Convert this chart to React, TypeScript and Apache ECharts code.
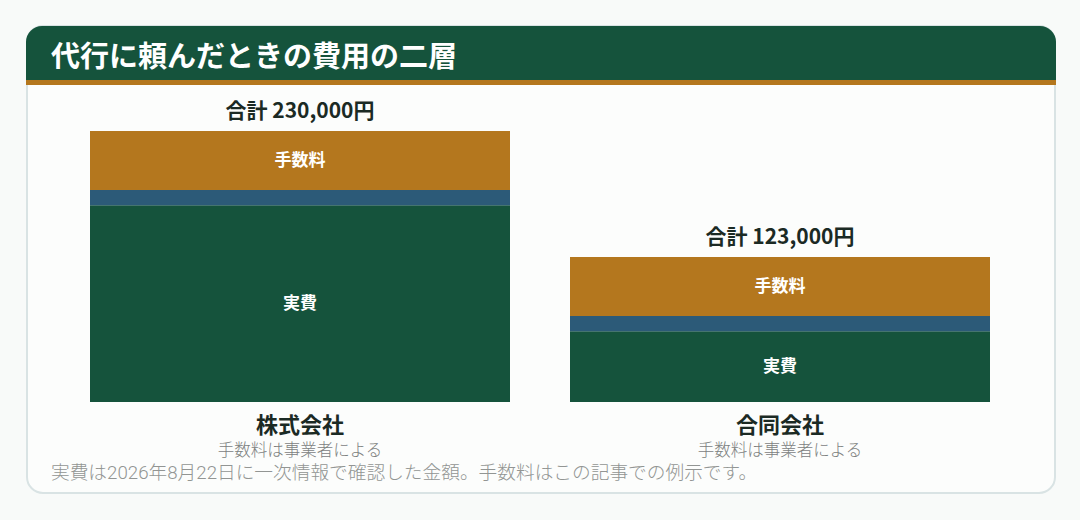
import React, { useEffect, useRef } from "react";
import * as echarts from "echarts";

const TITLE = "代行に頼んだときの費用の二層";
const FOOTNOTE = "実費は2026年8月22日に一次情報で確認した金額。手数料はこの記事での例示です。";
const categories = ["株式会社", "合同会社"];
const subLabels = ["手数料は事業者による", "手数料は事業者による"];
const actualCost = [167000, 60000];
const middleLayer = [13000, 13000];
const serviceFee = [50000, 50000];
const totals = categories.map((_, i) => actualCost[i] + middleLayer[i] + serviceFee[i]);

const FONT = "'Noto Sans CJK JP', 'Noto Sans', sans-serif";
const GREEN = "#15533c";
const BLUE = "#2c5a78";
const ORANGE = "#b4771e";
const DARK = "#1b2a24";

export default function App() {
  const ref = useRef<HTMLDivElement>(null);
  useEffect(() => {
    document.body.style.margin = "0";
    const chart = echarts.init(ref.current!, null, { renderer: "svg" });
    const fmt = (v: number) => v.toLocaleString("en-US");
    chart.setOption({
      animation: false,
      backgroundColor: "#f8faf9",
      textStyle: { fontFamily: FONT },
      graphic: [
        {
          type: "rect",
          z: 0,
          shape: { x: 27, y: 26, width: 1028, height: 467, r: 16 },
          style: { fill: "#fcfdfc", stroke: "#d9e3e4", lineWidth: 2 },
        },
        {
          type: "rect",
          z: 1,
          shape: { x: 26, y: 26, width: 1030, height: 54, r: [16, 16, 0, 0] },
          style: { fill: GREEN },
        },
        {
          type: "rect",
          z: 1,
          shape: { x: 26, y: 80, width: 1030, height: 5 },
          style: { fill: ORANGE },
        },
        {
          type: "text",
          z: 2,
          x: 51,
          y: 54,
          style: {
            text: TITLE,
            fill: "#ffffff",
            font: `bold 29px ${FONT}`,
            verticalAlign: "middle",
          },
        },
        {
          type: "text",
          z: 2,
          x: 51,
          y: 473,
          style: {
            text: FOOTNOTE,
            fill: "#929593",
            font: `300 18.7px Roboto, ${FONT}`,
            verticalAlign: "middle",
          },
        },
      ],
      grid: { left: 60, right: 60, top: 131, bottom: 118 },
      xAxis: {
        type: "category",
        data: categories,
        axisLine: { show: false },
        axisTick: { show: false },
        axisLabel: {
          margin: 8,
          interval: 0,
          formatter: (v: string, i: number) => `{a|${v}}\n{b|${subLabels[i]}}`,
          rich: {
            a: { fontSize: 22, fontWeight: "bold", color: DARK, lineHeight: 26, fontFamily: FONT },
            b: { fontSize: 16.5, fontWeight: 300, color: "#7d817f", lineHeight: 25, fontFamily: FONT },
          },
        },
      },
      yAxis: {
        type: "value",
        min: 0,
        max: 230000,
        show: false,
        splitLine: { show: false },
      },
      series: [
        {
          name: "実費",
          type: "bar",
          stack: "cost",
          barWidth: 420,
          data: actualCost,
          itemStyle: { color: GREEN },
          label: {
            show: true,
            position: "inside",
            offset: [0, -2],
            formatter: "実費",
            color: "#ffffff",
            fontSize: 17,
            fontWeight: "bold",
            fontFamily: FONT,
          },
        },
        {
          name: "その他",
          type: "bar",
          stack: "cost",
          barWidth: 420,
          data: middleLayer,
          itemStyle: { color: BLUE },
        },
        {
          name: "手数料",
          type: "bar",
          stack: "cost",
          barWidth: 420,
          data: serviceFee,
          itemStyle: { color: ORANGE },
          label: {
            show: true,
            position: "inside",
            offset: [0, -2],
            formatter: "手数料",
            color: "#ffffff",
            fontSize: 17,
            fontWeight: "bold",
            fontFamily: FONT,
          },
        },
        {
          name: "合計",
          type: "bar",
          stack: "cost",
          barWidth: 420,
          data: totals.map(() => 0),
          itemStyle: { color: "transparent" },
          label: {
            show: true,
            position: "top",
            distance: 12,
            formatter: (p: any) => `合計 ${fmt(totals[p.dataIndex])}円`,
            color: DARK,
            fontSize: 21,
            fontWeight: "bold",
            fontFamily: FONT,
          },
        },
      ],
    });
    return () => chart.dispose();
  }, []);
  return (
    <div
      ref={ref}
      style={{ position: "fixed", left: 0, top: 0, width: 1080, height: 520 }}
    />
  );
}
